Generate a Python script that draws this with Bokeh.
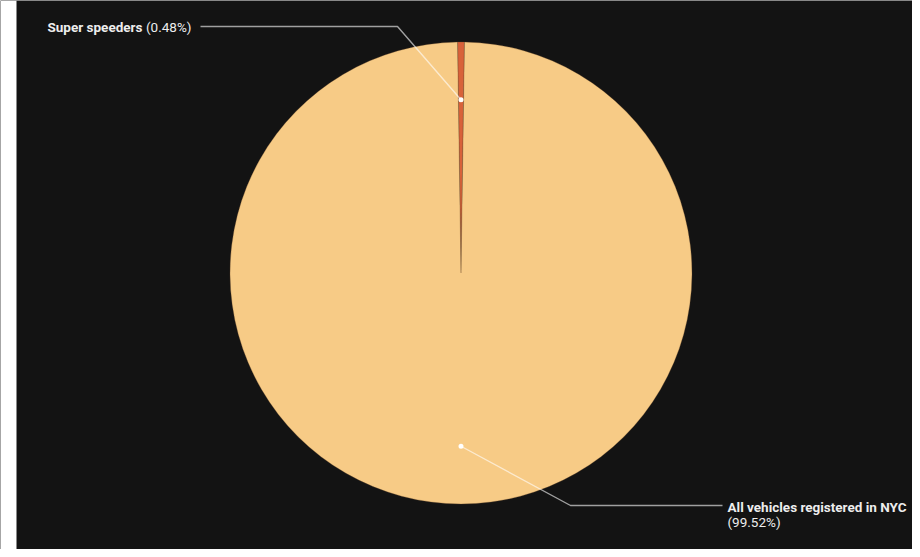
import math
from bokeh.plotting import figure
from bokeh.models import Range1d
from bokeh.core.properties import value
from bokeh.embed import file_html
from bokeh.resources import INLINE

# ---- data ----
categories = ["Super speeders", "All vehicles registered in NYC"]
shares = [0.48, 99.52]
pct_labels = ["(0.48%)", "(99.52%)"]
colors = ["#D8623A", "#F7CB86"]

BG = "#131313"
TEXT = "#EDEDED"
FONT = value("Roboto")
FS = "13.5px"

# layout: one data unit = one pixel of the figure (y = -pixel row)
W, H = 912, 549
p = figure(width=W, height=H, output_backend="svg", toolbar_location=None,
           x_range=Range1d(0, W), y_range=Range1d(-H, 0),
           x_axis_location=None, y_axis_location=None,
           min_border_left=0, min_border_right=0, min_border_top=0, min_border_bottom=0)
p.grid.visible = False
p.outline_line_color = None
p.background_fill_color = BG
p.border_fill_color = BG

# white strip at the left edge
p.quad(left=[0], right=[16], bottom=[-H], top=[0], fill_color="white", line_color=None)

cx, cy, R = 460.5, -272.5, 231

total = sum(shares)
fracs = [s / total for s in shares]
# first slice centred on the top, slices go clockwise
start = math.pi / 2 + fracs[0] * math.pi
starts, ends, mids = [], [], []
for f in fracs:
    a0 = start
    a1 = start - f * 2 * math.pi
    starts.append(a0)
    ends.append(a1)
    mids.append((a0 + a1) / 2)
    start = a1

p.wedge(x=[cx] * len(shares), y=[cy] * len(shares), radius=R,
        start_angle=starts, end_angle=ends, direction="clock",
        fill_color=colors, line_color="#6b4a2a", line_width=0.6, line_alpha=0.5)

# leader lines
r_anchor = 0.75 * R
anchors = [(cx + r_anchor * math.cos(m), cy + r_anchor * math.sin(m)) for m in mids]
elbows = [(397, -26), (570, -505)]
ends_pt = [(200, -26), (722, -505)]
for (ax, ay), (ex, ey), (tx, ty) in zip(anchors, elbows, ends_pt):
    p.line([ax, ex, tx], [ay, ey, ty], line_color="white", line_alpha=0.6, line_width=1.4)
p.scatter([a[0] for a in anchors], [a[1] for a in anchors], size=5,
          fill_color="white", line_color=None)

# labels
p.text(x=[47], y=[-26], text=[categories[0]], text_font=FONT, text_font_style="bold",
       text_font_size=FS, text_color=TEXT, text_baseline="middle", text_align="left")
p.text(x=[145.5], y=[-26], text=[pct_labels[0]], text_font=FONT,
       text_font_size=FS, text_color=TEXT, text_baseline="middle", text_align="left")
p.text(x=[727], y=[-506], text=[categories[1]], text_font=FONT, text_font_style="bold",
       text_font_size=FS, text_color=TEXT, text_baseline="middle", text_align="left")
p.text(x=[727], y=[-521], text=[pct_labels[1]], text_font=FONT,
       text_font_size=FS, text_color=TEXT, text_baseline="middle", text_align="left")

open("out.html", "w").write(file_html(p, INLINE))
